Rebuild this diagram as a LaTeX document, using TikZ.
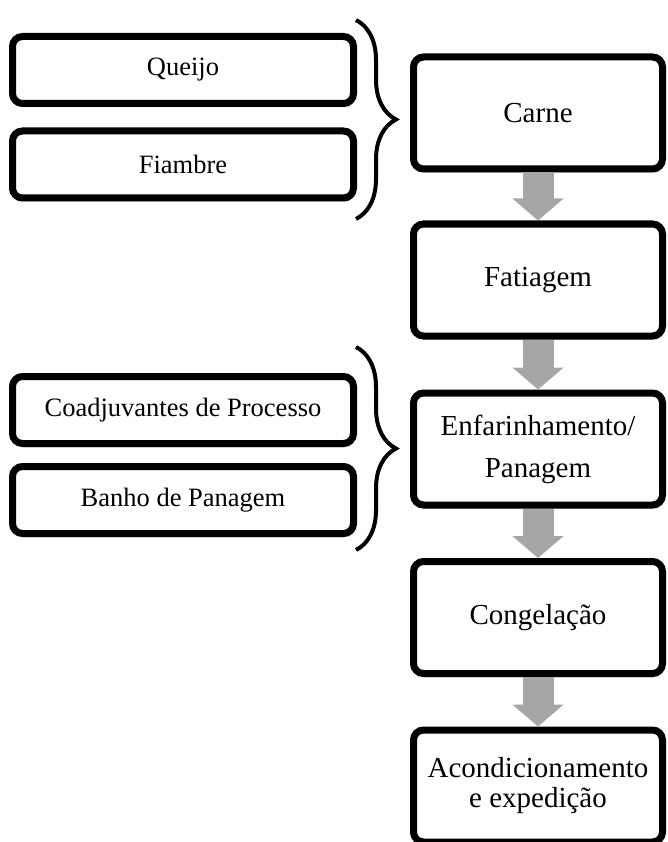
\documentclass[tikz,border=0pt]{standalone}
\usepackage{fontspec}
\setmainfont{Liberation Serif}
\usetikzlibrary{arrows.meta, decorations.pathreplacing, shadows}

\begin{document}
\begin{tikzpicture}[x=1pt, y=-1pt,
        etapa/.style={draw, line width=7pt, rounded corners=10pt, fill=white,
            minimum width=249pt, minimum height=112pt, align=center,
            font=\fontsize{29}{42}\selectfont,
            drop shadow={shadow xshift=1.5pt, shadow yshift=-4pt, opacity=0.25}},
        ingrediente/.style={etapa, minimum width=341pt, minimum height=67pt,
            font=\fontsize{26.5}{32}\selectfont},
        seta/.style={draw=black!35, line width=31pt,
            -{Triangle[width=50pt, length=22pt]}},
        chaveta/.style={decorate, decoration={brace, amplitude=40pt}, line width=4pt}]
                    \useasboundingbox (0,0) rectangle (668,842);

                    % Etapas:
                    \node[etapa] (carne)    at (538,113)   {Carne};
                    \node[etapa] (fatiagem) at (538,280)   {Fatiagem};
                    \node[etapa] (enfar)    at (538,449)   {Enfarinhamento/\\Panagem};
                    \node[etapa] (congel)   at (538,617.5) {Congela\c{c}\~ao};
                    \node[etapa] (acond)    at (538,786)   {Acondicionamento\\[-12pt]e expedi\c{c}\~ao};

                    % Ingredientes:
                    \node[ingrediente] (queijo)  at (183,70)    {Queijo};
                    \node[ingrediente] (fiambre) at (183,164.5) {Fiambre};
                    \node[ingrediente] (coadj)   at (183,410)   {Coadjuvantes de Processo};
                    \node[ingrediente] (banho)   at (183,500)   {Banho de Panagem};

                    % Setas:
                    \draw[seta] (carne) -- (fatiagem);
                    \draw[seta] (fatiagem) -- (enfar);
                    \draw[seta] (enfar) -- (congel);
                    \draw[seta] (congel) -- (acond);

                    % Chavetas:
                    \draw[chaveta] (356,20) -- (356,219);
                    \draw[chaveta] (356,347) -- (356,550);
                \end{tikzpicture}
\end{document}
